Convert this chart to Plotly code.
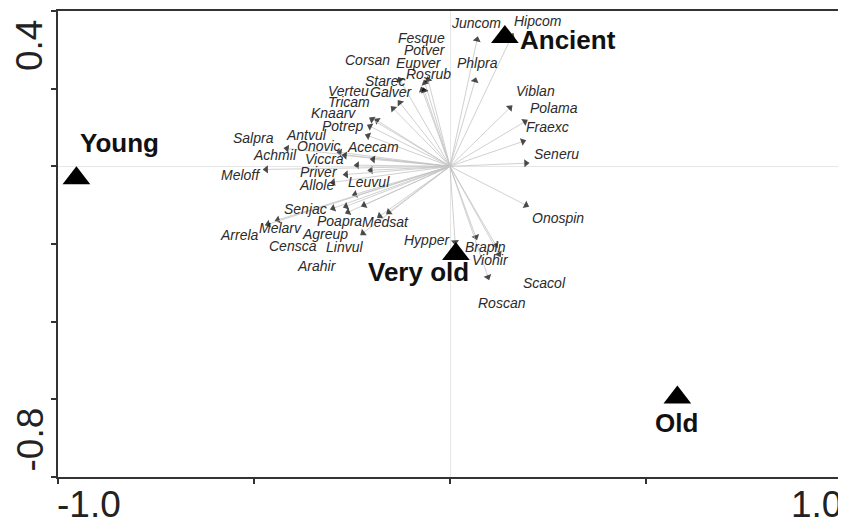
import plotly.graph_objects as go

# Species scores (arrow tips)
species = ["Fesque", "Potver", "Eupver", "Rosrub", "Corsan", "Starec", "Galver", "Verteu",
           "Tricam", "Knaarv", "Potrep", "Antvul", "Salpra", "Onovic", "Acecam", "Achmil",
           "Viccra", "Meloff", "Priver", "Allole", "Leuvul", "Senjac", "Poapra", "Medsat",
           "Agreup", "Melarv", "Arrela", "Censca", "Linvul", "Arahir", "Juncom", "Hipcom",
           "Phlpra", "Viblan", "Polama", "Fraexc", "Seneru", "Onospin", "Hypper", "Brapin",
           "Viohir", "Scacol", "Roscan"]
sp_x = [-0.056, -0.064, -0.071, -0.066, -0.128, -0.128, -0.145, -0.186,
        -0.199, -0.204, -0.209, -0.281, -0.416, -0.268, -0.196, -0.237,
        -0.202, -0.469, -0.265, -0.298, -0.242, -0.298, -0.265, -0.179,
        -0.260, -0.439, -0.464, -0.219, -0.222, -0.156, 0.069, 0.158,
        0.064, 0.153, 0.191, 0.186, 0.194, 0.194, 0.013, 0.066,
        0.117, 0.125, 0.097]
sp_y = [0.223, 0.215, 0.197, 0.195, 0.223, 0.164, 0.149, 0.118,
        0.121, 0.103, 0.079, 0.036, 0.046, 0.028, 0.018, 0.003,
        -0.010, -0.008, -0.021, -0.041, -0.072, -0.108, -0.103, -0.128,
        -0.118, -0.138, -0.149, -0.100, -0.172, -0.118, 0.326, 0.336,
        0.221, 0.151, 0.115, 0.064, 0.008, -0.100, -0.195, -0.182,
        -0.203, -0.226, -0.285]

# Label placement offsets (pixels, relative to arrow tip; dy positive = down)
lab_dx = [-7, 0, -3, 4, -32, -15, -2, -29,
          -23, -37, -26, -33, -33, -26, 0, -82,
          -46, -25, -27, -17, 14, -28, -7, 6,
          -23, 3, -29, -71, -18, -72, -1, 26,
          2, 26, 29, 25, 30, 32, -28, 10,
          -5, 45, 14]
lab_dy = [-40, -31, -25, -15, -18, -20, -14, -28,
          -15, -11, -8, -15, -8, -7, -10, -8,
          -9, 8, 0, 5, -10, 3, 17, 8,
          24, 10, 13, 43, 16, 56, -15, -13,
          -16, -15, -12, -12, -7, 15, 0, 12,
          17, 31, 28]

# Group centroids
groups = ["Young", "Ancient", "Very old", "Old"]
grp_x = [-0.953, 0.140, 0.015, 0.580]
grp_y = [-0.031, 0.333, -0.226, -0.595]
grp_dx = [43, 63, -37, -1]
grp_dy = [-35, 3, 18, 26]

FONT = "Liberation Sans, Arial, sans-serif"

fig = go.Figure()

for name, x, y in zip(species, sp_x, sp_y):
    fig.add_trace(go.Scatter(
        x=[0, x], y=[0, y], mode="lines+markers",
        line=dict(color="#c4c4c4", width=0.8),
        marker=dict(symbol="triangle-up", size=[0, 7], angleref="previous", color="black",
                    line=dict(width=0)),
        hoverinfo="skip", showlegend=False))

fig.add_trace(go.Scatter(
    x=grp_x, y=grp_y, mode="markers",
    marker=dict(symbol="triangle-up", size=24, color="black", line=dict(width=0)),
    hoverinfo="skip", showlegend=False))

annotations = []
for name, x, y, dx, dy in zip(species, sp_x, sp_y, lab_dx, lab_dy):
    annotations.append(dict(
        x=x, y=y, text=name, showarrow=False, xshift=dx, yshift=-dy + 2,
        xanchor="center", yanchor="middle",
        font=dict(family=FONT, size=14, color="#2b2b2b", style="italic")))

for name, x, y, dx, dy in zip(groups, grp_x, grp_y, grp_dx, grp_dy):
    annotations.append(dict(
        x=x, y=y, text="<b>" + name + "</b>", showarrow=False, xshift=dx, yshift=-dy,
        xanchor="center", yanchor="middle",
        font=dict(family=FONT, size=26, color="#111111")))

# Axis end labels
tickfont = dict(family=FONT, size=37, color="#222222")
annotations += [
    dict(xref="paper", yref="paper", x=0, y=0, text="-1.0", showarrow=False,
         xanchor="left", yanchor="top", xshift=-3, yshift=-5, font=tickfont),
    dict(xref="paper", yref="paper", x=1, y=0, text="1.0", showarrow=False,
         xanchor="right", yanchor="top", xshift=2, yshift=-5, font=tickfont),
    dict(xref="paper", yref="paper", x=0, y=1, text="0.4", showarrow=False, textangle=-90,
         xanchor="right", yanchor="top", xshift=-6, yshift=-7, font=tickfont),
    dict(xref="paper", yref="paper", x=0, y=0, text="-0.8", showarrow=False, textangle=-90,
         xanchor="right", yanchor="bottom", xshift=-6, yshift=4, font=tickfont),
]

axis_common = dict(
    showgrid=False, zeroline=True, zerolinecolor="#e6e6e6", zerolinewidth=1,
    showline=True, linecolor="#333333", linewidth=2, mirror=True,
    ticks="outside", ticklen=5, tickwidth=1.5, tickcolor="#333333",
    showticklabels=False, fixedrange=True)

# The page body has an 8px margin, so the figure is sized to fit the window.
fig.update_layout(
    width=838, height=516,
    margin=dict(l=50, r=4, t=1, b=47),
    paper_bgcolor="white", plot_bgcolor="white",
    xaxis=dict(range=[-1, 1], tickvals=[-1, -0.5, 0, 0.5, 1], **axis_common),
    yaxis=dict(range=[-0.8, 0.4], tickvals=[-0.8, -0.6, -0.4, -0.2, 0, 0.2, 0.4], **axis_common),
    annotations=annotations,
    showlegend=False,
)

fig.write_html("out.html")
